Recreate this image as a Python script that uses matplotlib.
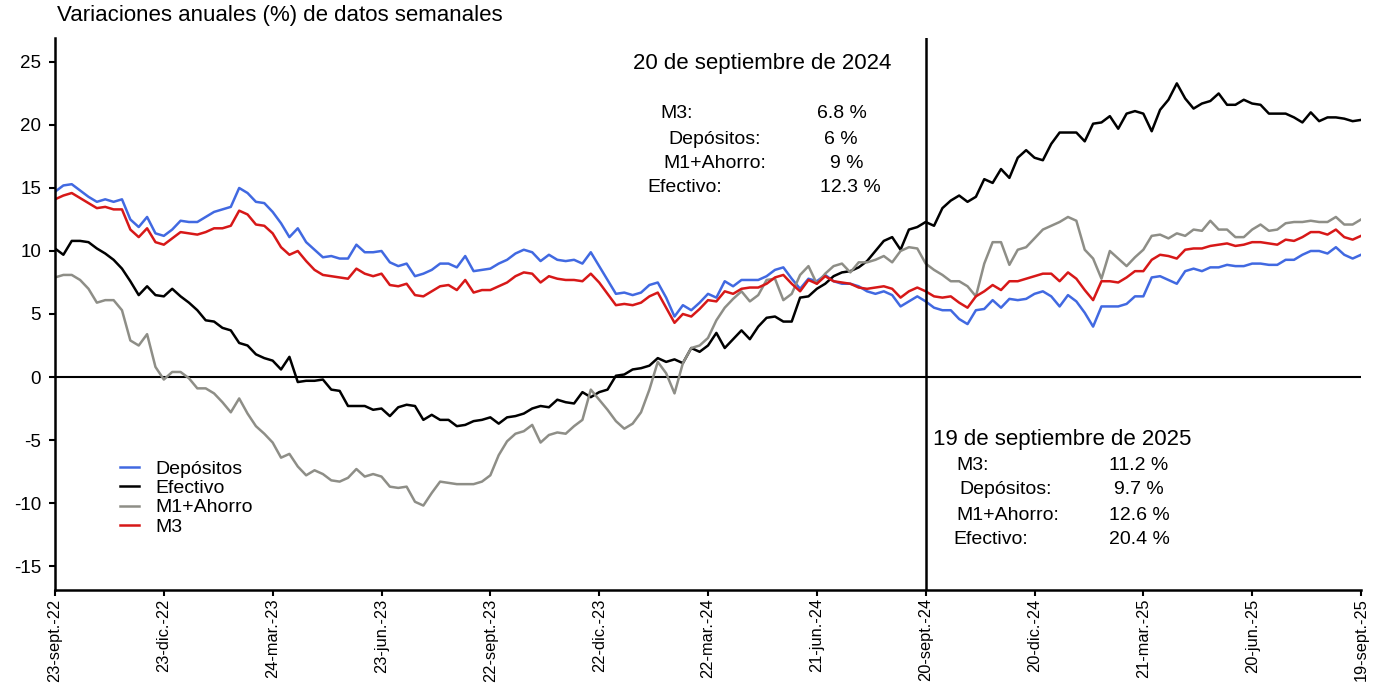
import matplotlib
matplotlib.use("Agg")
import matplotlib.pyplot as plt

# weekly annual growth rates (%), 23-sept-22 .. 19-sept-25
depositos = [14.7, 15.2, 15.3, 14.8, 14.3, 13.9, 14.1, 13.9, 14.1, 12.5, 11.9, 12.7, 11.4, 11.2, 11.7, 12.4, 12.3, 12.3, 12.7, 13.1, 13.3, 13.5, 15.0, 14.6, 13.9, 13.8, 13.1, 12.2,
             11.1, 11.8, 10.7, 10.1, 9.5, 9.6, 9.4, 9.4, 10.5, 9.9, 9.9, 10.0, 9.1, 8.8, 9.0, 8.0, 8.2, 8.5, 9.0, 9.0, 8.7, 9.6, 8.4,
             8.5, 8.6, 9.0, 9.3, 9.8, 10.1, 9.9, 9.2, 9.7, 9.3, 9.2, 9.3, 9.0, 9.9, 8.8, 7.7, 6.6, 6.7, 6.5, 6.7, 7.3, 7.5, 6.3, 4.8, 5.7, 5.3, 5.9, 6.6, 6.3,
             7.6, 7.2, 7.7, 7.7, 7.7, 8.0, 8.5, 8.7, 7.8, 7.0, 7.8, 7.6, 8.1, 7.6, 7.4, 7.4, 7.2, 6.8, 6.6, 6.8, 6.5, 5.6, 6.0, 6.4, 6.0, 5.5,
             5.3, 5.3, 4.6, 4.2, 5.3, 5.4, 6.1, 5.5, 6.2, 6.1, 6.2, 6.6, 6.8, 6.4, 5.6, 6.5, 6.0, 5.1, 4.0, 5.6, 5.6, 5.6, 5.8, 6.4, 6.4, 7.9, 8.0,
             7.7, 7.4, 8.4, 8.6, 8.4, 8.7, 8.7, 8.9, 8.8, 8.8, 9.0, 9.0, 8.9, 8.9, 9.3, 9.3, 9.7, 10.0, 10.0, 9.8, 10.3, 9.7, 9.4, 9.7]
m3 = [14.1, 14.4, 14.6, 14.2, 13.8, 13.4, 13.5, 13.3, 13.3, 11.7, 11.1, 11.8, 10.7, 10.5, 11.0, 11.5, 11.4, 11.3, 11.5, 11.8, 11.8, 12.0, 13.2, 12.9, 12.1, 12.0, 11.4, 10.3,
      9.7, 10.0, 9.2, 8.5, 8.1, 8.0, 7.9, 7.8, 8.6, 8.2, 8.0, 8.2, 7.3, 7.2, 7.4, 6.5, 6.4, 6.8, 7.2, 7.3, 6.9, 7.7, 6.7,
      6.9, 6.9, 7.2, 7.5, 8.0, 8.3, 8.2, 7.5, 8.0, 7.8, 7.7, 7.7, 7.6, 8.2, 7.5, 6.6, 5.7, 5.8, 5.7, 5.9, 6.4, 6.7, 5.5, 4.3, 5.0, 4.8, 5.4, 6.1, 6.0,
      6.8, 6.6, 7.0, 7.1, 7.1, 7.4, 7.9, 8.1, 7.4, 6.8, 7.7, 7.4, 8.0, 7.6, 7.5, 7.4, 7.1, 7.0, 7.1, 7.2, 7.0, 6.3, 6.8, 7.1, 6.8, 6.4,
      6.3, 6.4, 5.9, 5.5, 6.4, 6.8, 7.3, 6.9, 7.6, 7.6, 7.8, 8.0, 8.2, 8.2, 7.6, 8.3, 7.8, 6.9, 6.1, 7.6, 7.6, 7.5, 7.9, 8.4, 8.4, 9.3, 9.7,
      9.6, 9.4, 10.1, 10.2, 10.2, 10.4, 10.5, 10.6, 10.4, 10.5, 10.7, 10.7, 10.6, 10.5, 10.9, 10.8, 11.1, 11.5, 11.5, 11.3, 11.7, 11.1, 10.9, 11.2]
efectivo = [10.2, 9.7, 10.8, 10.8, 10.7, 10.2, 9.8, 9.3, 8.6, 7.6, 6.5, 7.2, 6.5, 6.4, 7.0, 6.4, 5.9, 5.3, 4.5, 4.4, 3.9, 3.7, 2.7, 2.5, 1.8, 1.5, 1.3, 0.6,
            1.6, -0.4, -0.3, -0.3, -0.2, -1.0, -1.1, -2.3, -2.3, -2.3, -2.6, -2.5, -3.1, -2.4, -2.2, -2.3, -3.4, -3.0, -3.4, -3.4, -3.9, -3.8, -3.5,
            -3.4, -3.2, -3.7, -3.2, -3.1, -2.9, -2.5, -2.3, -2.4, -1.8, -2.0, -2.1, -1.2, -1.6, -1.2, -1.0, 0.1, 0.2, 0.6, 0.7, 0.9, 1.5, 1.2, 1.4, 1.1, 2.3, 2.0, 2.5, 3.5,
            2.3, 3.0, 3.7, 3.0, 4.0, 4.7, 4.8, 4.4, 4.4, 6.3, 6.4, 7.0, 7.4, 8.0, 8.3, 8.4, 8.7, 9.2, 10.0, 10.8, 11.1, 10.1, 11.7, 11.9, 12.3, 12.0,
            13.4, 14.0, 14.4, 13.9, 14.3, 15.7, 15.4, 16.5, 15.8, 17.4, 18.0, 17.4, 17.2, 18.5, 19.4, 19.4, 19.4, 18.7, 20.1, 20.2, 20.7, 19.7, 20.9, 21.1, 20.9, 19.5, 21.2,
            22.0, 23.3, 22.1, 21.3, 21.7, 21.9, 22.5, 21.6, 21.6, 22.0, 21.7, 21.6, 20.9, 20.9, 20.9, 20.6, 20.2, 21.0, 20.3, 20.6, 20.6, 20.5, 20.3, 20.4]
m1_ahorro = [7.9, 8.1, 8.1, 7.7, 7.0, 5.9, 6.1, 6.1, 5.3, 2.9, 2.5, 3.4, 0.8, -0.2, 0.4, 0.4, -0.1, -0.9, -0.9, -1.3, -2.0, -2.8, -1.7, -2.9, -3.9, -4.5, -5.2, -6.4,
             -6.1, -7.1, -7.8, -7.4, -7.7, -8.2, -8.3, -8.0, -7.3, -7.9, -7.7, -7.9, -8.7, -8.8, -8.7, -9.9, -10.2, -9.2, -8.3, -8.4, -8.5, -8.5, -8.5,
             -8.3, -7.8, -6.2, -5.1, -4.5, -4.3, -3.8, -5.2, -4.6, -4.4, -4.5, -3.9, -3.4, -1.0, -1.8, -2.6, -3.5, -4.1, -3.7, -2.8, -1.0, 1.2, 0.3, -1.3, 1.1, 2.3, 2.5, 3.1, 4.5,
             5.5, 6.2, 6.8, 6.0, 6.5, 7.7, 7.8, 6.1, 6.6, 8.1, 8.8, 7.4, 8.2, 8.8, 9.0, 8.3, 9.1, 9.1, 9.3, 9.6, 9.1, 10.0, 10.3, 10.2, 9.0, 8.5,
             8.1, 7.6, 7.6, 7.2, 6.4, 9.0, 10.7, 10.7, 8.9, 10.1, 10.3, 11.0, 11.7, 12.0, 12.3, 12.7, 12.4, 10.1, 9.4, 7.8, 10.0, 9.4, 8.8, 9.5, 10.1, 11.2, 11.3,
             11.0, 11.4, 11.2, 11.7, 11.6, 12.4, 11.7, 11.7, 11.1, 11.1, 11.7, 12.1, 11.6, 11.7, 12.2, 12.3, 12.3, 12.4, 12.3, 12.3, 12.7, 12.1, 12.1, 12.5]

tick_labels = ["23-sept.-22", "23-dic.-22", "24-mar.-23", "23-jun.-23", "22-sept.-23", "22-dic.-23",
               "22-mar.-24", "21-jun.-24", "20-sept.-24", "20-dic.-24", "21-mar.-25", "20-jun.-25", "19-sept.-25"]
marker_week = 104

box_2024 = ["20 de septiembre de 2024", ("M3:", "6.8 %"), ("Depósitos:", "6 %"), ("M1+Ahorro:", "9 %"), ("Efectivo:", "12.3 %")]
box_2025 = ["19 de septiembre de 2025", ("M3:", "11.2 %"), ("Depósitos:", "9.7 %"), ("M1+Ahorro:", "12.6 %"), ("Efectivo:", "20.4 %")]

plt.rcParams["font.family"] = ["Liberation Sans", "DejaVu Sans"]
plt.rcParams["axes.unicode_minus"] = False

W, H = 1390, 685
fig = plt.figure(figsize=(W / 100, H / 100), dpi=100)
ax = fig.add_axes([55 / W, 1 - 590 / H, 1306 / W, 552 / H])


def fx(px):
    return px / W


def fy(py):
    return 1 - py / H


weeks = list(range(len(depositos)))
ax.plot(weeks, depositos, color="#4169e1", lw=1.8, label="Depósitos")
ax.plot(weeks, efectivo, color="black", lw=1.8, label="Efectivo")
ax.plot(weeks, m1_ahorro, color="#8e8e87", lw=1.8, label="M1+Ahorro")
ax.plot(weeks, m3, color="#d71818", lw=1.8, label="M3")

ax.axhline(0, color="black", lw=1.5, zorder=1)
ax.axvline(marker_week, color="black", lw=1.8)

ax.set_xlim(0, len(weeks) - 1)
ax.set_ylim(-16.9, 26.9)
ax.set_yticks(range(-15, 30, 5))
ax.set_xticks(range(0, len(weeks), 13))
ax.set_xticklabels(tick_labels, rotation=90)
ax.tick_params(width=1.5, length=4, colors="black")
ax.tick_params(axis="y", labelsize=13.5, pad=6)
ax.tick_params(axis="x", labelsize=11.8, pad=2)
for side in ["top", "right"]:
    ax.spines[side].set_visible(False)
for side in ["left", "bottom"]:
    ax.spines[side].set_linewidth(1.8)

fig.text(fx(57), fy(16), "Variaciones anuales (%) de datos semanales", fontsize=16, va="center")

ax.legend(loc="upper left", bbox_to_anchor=(fx(120), fy(460)), bbox_transform=fig.transFigure,
          frameon=False, fontsize=14, handlelength=1.0, handletextpad=0.8, labelspacing=0.09,
          borderpad=0, borderaxespad=0)

# 2024 box
fig.text(fx(633), fy(63), box_2024[0], fontsize=16, va="center")
for (lab, val), lx, vx, yy in zip(box_2024[1:], [660, 668, 663, 647], [842, 841, 847, 850], [114, 139, 164, 188]):
    fig.text(fx(lx), fy(yy), lab, fontsize=14, va="center")
    fig.text(fx(vx), fy(yy), val, fontsize=14, va="center", ha="center")

# 2025 box
fig.text(fx(933), fy(440), box_2025[0], fontsize=16, va="center")
for (lab, val), lx, yy in zip(box_2025[1:], [956, 959, 956, 953], [465, 490, 515, 540]):
    fig.text(fx(lx), fy(yy), lab, fontsize=14, va="center")
    fig.text(fx(1139), fy(yy), val, fontsize=14, va="center", ha="center")

fig.savefig("out.png", dpi=100)
